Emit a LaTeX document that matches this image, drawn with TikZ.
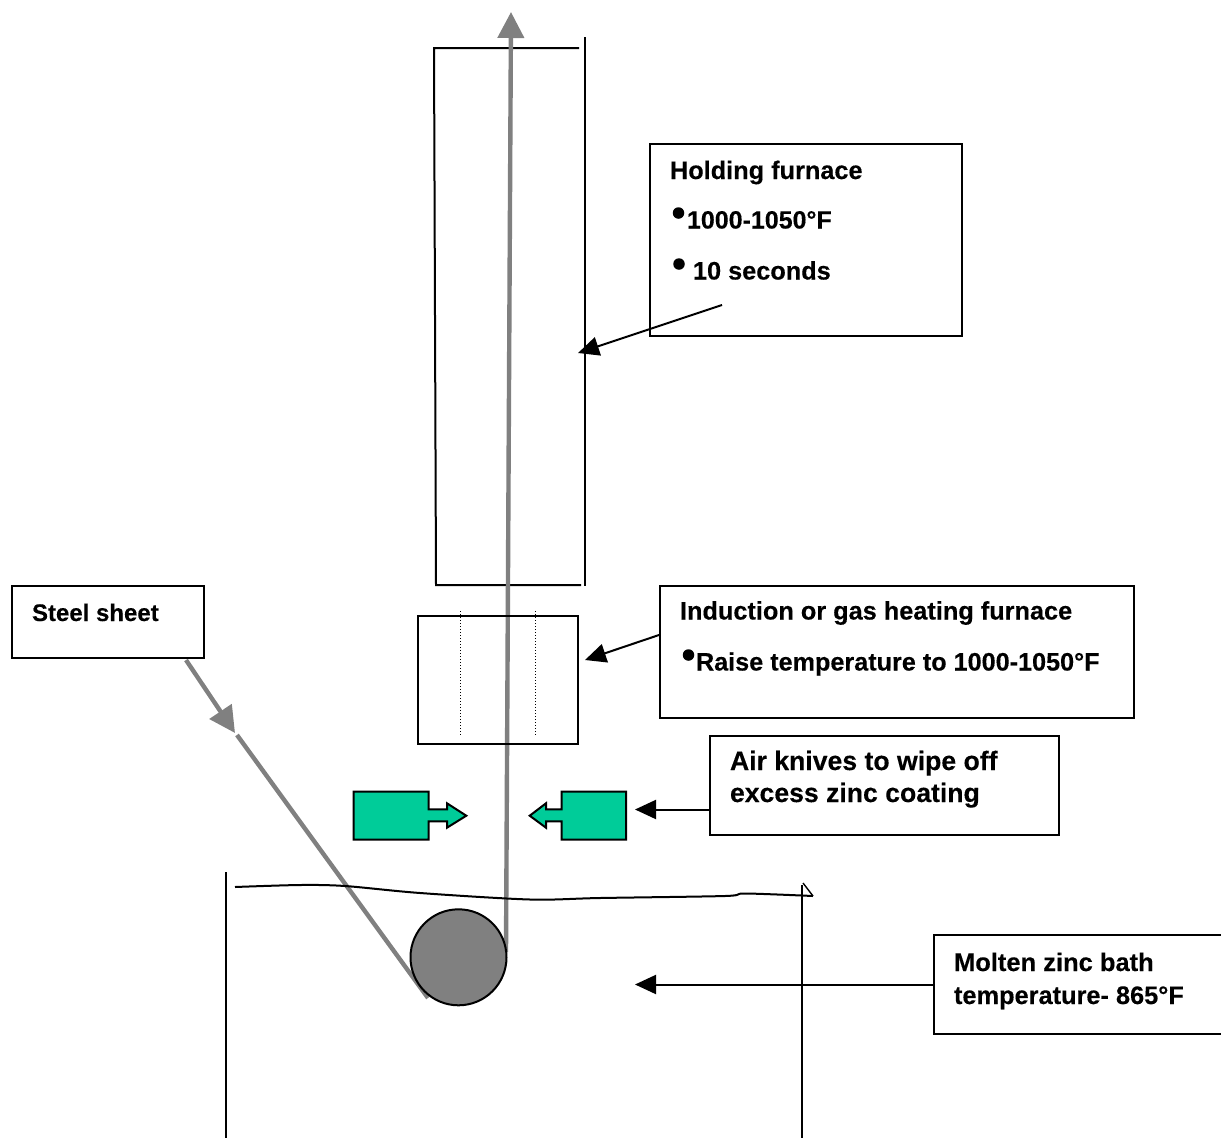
\documentclass[tikz,border=0pt]{standalone}
\usepackage{fontspec}
\setmainfont{Liberation Sans}[BoldFeatures={FakeBold=0.25}]
\usetikzlibrary{arrows.meta}
\definecolor{knife}{HTML}{00CC99}
\definecolor{sheet}{HTML}{808080}
\newcommand{\boxnode}[6]{\node[box,minimum width=#4-#2,minimum height=#5-#3] (#1) at ({(#2+#4)/2},{(#3+#5)/2}) {};}
\tikzset{
  box/.style={draw=black,line width=1.9pt,fill=none,inner sep=0pt,outer sep=0pt},
  plain/.style={draw=black,line width=2pt},
  leader/.style={draw=black,line width=2pt,-{Triangle[length=21pt,width=19pt]}},
  sheetline/.style={draw=sheet,line width=4.4pt},
  sheetarrow/.style={sheetline,-{Triangle[length=26pt,width=26pt]}},
  label/.style={anchor=base west,inner sep=0pt,outer sep=0pt,font=\fontsize{25.3}{30}\selectfont\bfseries},
  bullet/.style={circle,fill=black,draw=none,minimum size=11.5pt,inner sep=0pt},
  knifeshape/.style={draw=black,fill=knife,line width=2pt,line join=miter},
  dottedline/.style={draw=black,line width=1pt,dotted}
}
\begin{document}
\begin{tikzpicture}[x=1pt,y=-1pt]
\useasboundingbox (0,0) rectangle (1221,1138);
% coordinates
\coordinate (upS) at (506,952);
\coordinate (upE) at (511,12);
\coordinate (ssA) at (186,660);
\coordinate (ssB) at (235,733);
\coordinate (ssC) at (237,735);
\coordinate (ssD) at (428,998);
\coordinate (hA) at (722,305);
\coordinate (hB) at (578,353);
\coordinate (iA) at (659,635);
\coordinate (iB) at (585,660);
\coordinate (aA) at (709,809.5);
\coordinate (aB) at (635,809.5);
\coordinate (mA) at (933,984.5);
\coordinate (mB) at (635,984.5);
% holding furnace outline
\draw[plain] (579,48) -- (434,48) -- (436,585) -- (581,585);
\draw[plain] (585,37) -- (585,586);
% sheet
\draw[sheetarrow] (upS) -- (upE);
\draw[sheetarrow] (ssA) -- (ssB);
\draw[sheetline] (ssC) -- (ssD);
% roller
\node[draw=black,fill=sheet,circle,line width=2pt,minimum size=96pt,inner sep=0pt] (roller) at (458.5,957.3) {};
% induction furnace
\boxnode{indf}{418}{616}{578}{744}{}
\draw[dottedline] (460,611) -- (460,736);
\draw[dottedline] (535,611) -- (535,736);
% label boxes
\boxnode{hold}{650}{144}{962}{336}{}
\boxnode{induct}{660}{586}{1134}{718}{}
\boxnode{air}{710}{736}{1059}{835}{}
\boxnode{molten}{934}{935}{1230}{1034}{}
\boxnode{steel}{12}{586}{204}{658}{}
% air knives
\draw[knifeshape] (353.5,791.7) -- (428.7,791.7) -- (428.7,809.3) -- (447,809.3) -- (447,803.3) -- (466.3,815.7) -- (447,827.7) -- (447,821.3) -- (428.7,821.3) -- (428.7,839.7) -- (353.5,839.7) -- cycle;
\draw[knifeshape] (626,791.7) -- (561.7,791.7) -- (561.7,809.3) -- (546,809.3) -- (546,803.3) -- (529.7,815.7) -- (546,827.7) -- (546,821.3) -- (561.7,821.3) -- (561.7,839.7) -- (626,839.7) -- cycle;
% bath
\draw[plain] (226,872) -- (226,1138);
\draw[plain] (802,885) -- (802,1138);
\draw[black,line width=1.4pt] (803,883) -- (813,896);
\draw[plain] plot[smooth,tension=0.5] coordinates {(235,887) (300,885) (345,886) (420,893) (530,899.5) (600,898) (725,896) (745,893.5) (813,896)};
% leaders
\draw[leader] (hA) -- (hB);
\draw[leader] (iA) -- (iB);
\draw[leader] (aA) -- (aB);
\draw[leader] (mA) -- (mB);
% text
\node[label] (t1) at (670,179) {Holding furnace};
\node[bullet] (b1) at (678.5,213) {};
\node[label] (t2) at (687,228.5) {\fontsize{25}{30}\selectfont 1000-1050°F};
\node[bullet] (b2) at (679,264) {};
\node[label] (t3) at (693,279.5) {10 seconds};
\node[label] (t4) at (32,621) {\fontsize{24}{30}\selectfont Steel sheet};
\node[label] (t5) at (680,619.5) {Induction or gas heating furnace};
\node[bullet] (b3) at (688.5,655) {};
\node[label] (t6) at (696,670.5) {\fontsize{25.2}{30}\selectfont Raise temperature to 1000-1050°F};
\node[label] (t7) at (730,770) {\fontsize{26.6}{30}\selectfont Air knives to wipe off};
\node[label] (t8) at (730,802) {\fontsize{26.6}{30}\selectfont excess zinc coating};
\node[label] (t9) at (954,971) {\fontsize{25.5}{30}\selectfont Molten zinc bath};
\node[label] (t10) at (954,1004) {\fontsize{25.35}{30}\selectfont temperature- 865°F};
\end{tikzpicture}
\end{document}
